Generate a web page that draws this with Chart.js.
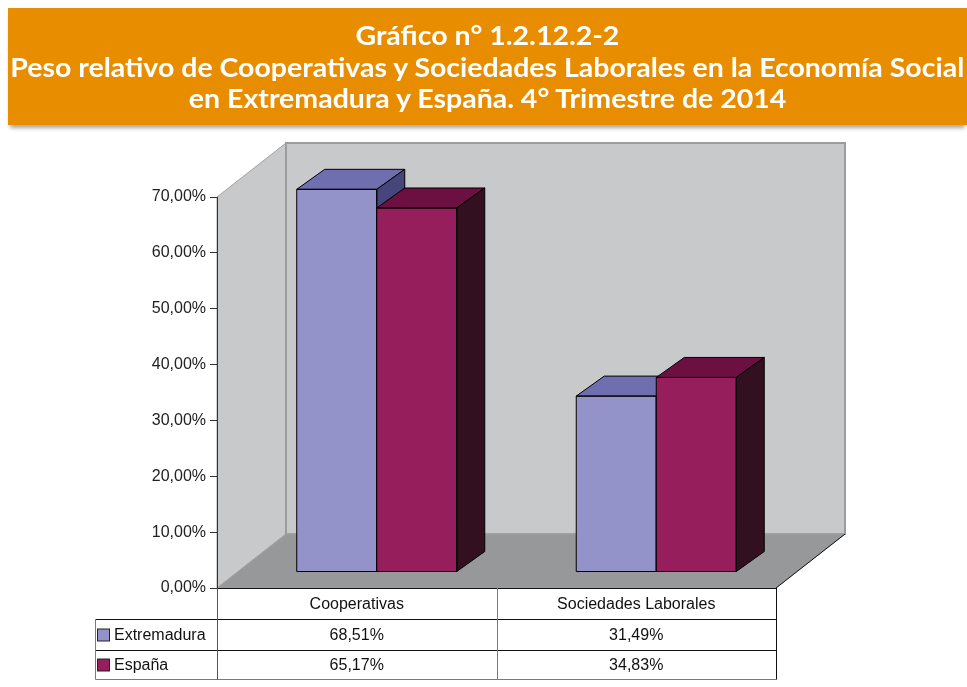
<!DOCTYPE html>
<html>
<head>
<meta charset="utf-8">
<title>Gráfico n° 1.2.12.2-2</title>
<script src="https://cdn.jsdelivr.net/npm/chart.js@4.4.1/dist/chart.umd.min.js"></script>
<style>
  html, body { margin: 0; padding: 0; background: #fff; }
  #wrap { position: relative; width: 967px; height: 687px; overflow: hidden; }
  #chart { position: absolute; left: 0; top: 0; }
  #header {
    position: absolute; left: 8px; top: 8px; width: 959px; height: 117px;
    background: #e88d00; box-shadow: 0 5px 4px -2px rgba(0,0,0,0.35);
    color: #fff; font-family: Lato, "Open Sans", sans-serif; font-weight: 700;
    font-size: 26px; text-align: center;
  }
  #header div { position: absolute; left: 0; right: 0; white-space: nowrap; line-height: 1; }
  #header span { display: inline-block; transform-origin: 50% 50%; }
</style>
</head>
<body>
<div id="wrap">
  <canvas id="chart" width="967" height="687"></canvas>
  <div id="header">
    <div style="top:14px"><span>Gráfico n° 1.2.12.2-2</span></div>
    <div style="top:46px"><span id="longLine">Peso relativo de Cooperativas y Sociedades Laborales en la Economía Social</span></div>
    <div style="top:77px"><span>en Extremadura y España. 4° Trimestre de 2014</span></div>
  </div>
</div>
<script>
const categories = ['Cooperativas', 'Sociedades Laborales'];
const seriesNames = ['Extremadura', 'España'];
const extremadura = [68.51, 31.49];
const espana = [65.17, 34.83];
const yTickValues = [0, 10, 20, 30, 40, 50, 60, 70];

// squeeze the title a little, the original font is narrower
(function fitTitle() {
    const w = document.getElementById('longLine').getBoundingClientRect().width;
    const k = 954 / w;
    document.querySelectorAll('#header span').forEach(s => {
        s.style.transform = 'scaleX(' + k + ')';
    });
})();

function pct(v) {
    return v.toFixed(2).replace('.', ',') + '%';
}

// 3d offsets of the box and of the bars
const WALL_DX = 69, WALL_DY = -54;
const BAR_SHIFT_X = 20, BAR_SHIFT_Y = -16;
const BAR_DX = 28, BAR_DY = -20;

function poly(ctx, pts, fill, stroke, lw) {
    ctx.beginPath();
    ctx.moveTo(pts[0][0], pts[0][1]);
    for (let i = 1; i < pts.length; i++) ctx.lineTo(pts[i][0], pts[i][1]);
    ctx.closePath();
    if (fill) {
        ctx.fillStyle = fill;
        ctx.fill();
    }
    if (stroke) {
        ctx.lineWidth = lw || 1;
        ctx.strokeStyle = stroke;
        ctx.stroke();
    }
}

function line(ctx, x1, y1, x2, y2, color) {
    ctx.beginPath();
    ctx.moveTo(x1, y1);
    ctx.lineTo(x2, y2);
    ctx.lineWidth = 1;
    ctx.strokeStyle = color;
    ctx.stroke();
}

const box3d = {
    id: 'box3d',
    beforeDraw(chart) {
        const ctx = chart.ctx;
        const a = chart.chartArea;
        const dx = WALL_DX, dy = WALL_DY;
        ctx.save();
        // left wall
        poly(ctx, [[a.left, a.top], [a.left + dx, a.top + dy], [a.left + dx, a.bottom + dy], [a.left, a.bottom]], '#c8c9cb', '#a2a2a2');
        // back wall
        poly(ctx, [[a.left + dx, a.top + dy], [a.right + dx, a.top + dy], [a.right + dx, a.bottom + dy], [a.left + dx, a.bottom + dy]], '#c8c9cb', '#9c9c9c', 2);
        // floor
        poly(ctx, [[a.left, a.bottom], [a.left + dx, a.bottom + dy], [a.right + dx, a.bottom + dy], [a.right, a.bottom]], '#979899', '#a2a2a2');
        line(ctx, a.right, a.bottom, a.right + dx, a.bottom + dy, '#111');
        ctx.restore();
    },
    beforeDatasetsDraw(chart) {
        const ctx = chart.ctx;
        ctx.save();
        ctx.translate(BAR_SHIFT_X, BAR_SHIFT_Y);
        ctx.lineJoin = 'miter';
        chart.data.labels.forEach((lab, i) => {
            chart.data.datasets.forEach((ds, d) => {
                const bar = chart.getDatasetMeta(d).data[i];
                bar.draw(ctx);
                const l = bar.x - bar.width / 2;
                const r = bar.x + bar.width / 2;
                const t = bar.y;
                const b = bar.base;
                poly(ctx, [[l, t], [l + BAR_DX, t + BAR_DY], [r + BAR_DX, t + BAR_DY], [r, t]], ds.topColor, '#000');
                poly(ctx, [[r, t], [r + BAR_DX, t + BAR_DY], [r + BAR_DX, b + BAR_DY], [r, b]], ds.sideColor, '#000');
                poly(ctx, [[l, t], [r, t], [r, b], [l, b]], null, '#000');
            });
        });
        ctx.restore();
        return false;
    },
    afterDraw(chart) {
        const ctx = chart.ctx;
        const a = chart.chartArea;
        const xs = chart.scales.x;
        const rowH = 31;
        const top = a.bottom;
        const r1 = top + rowH, r2 = r1 + rowH, r3 = r2 + 29;
        const legendLeft = 95;
        const mid = (a.left + a.right) / 2;
        ctx.save();
        ctx.font = '16px "Liberation Sans", Arial, sans-serif';
        ctx.textAlign = 'center';
        ctx.textBaseline = 'middle';
        ctx.fillStyle = '#111';
        categories.forEach((c, i) => {
            ctx.fillText(c, xs.getPixelForValue(i), top + rowH / 2 + 1);
        });
        const series = [extremadura, espana];
        const rows = [r1, r2];
        const rowEnds = [r2, r3];
        series.forEach((vals, s) => {
            const cy = (rows[s] + rowEnds[s]) / 2 + 1;
            vals.forEach((v, i) => {
                ctx.textAlign = 'center';
                ctx.fillStyle = '#111';
                ctx.fillText(pct(v), xs.getPixelForValue(i), cy);
            });
            const ds = chart.data.datasets[s];
            const sq = 12;
            ctx.fillStyle = ds.backgroundColor;
            ctx.fillRect(97.5, cy - sq / 2 - 0.5, sq, sq);
            ctx.lineWidth = 1;
            ctx.strokeStyle = '#222';
            ctx.strokeRect(97.5, cy - sq / 2 - 0.5, sq, sq);
            ctx.textAlign = 'left';
            ctx.fillStyle = '#111';
            ctx.fillText(seriesNames[s], 114, cy);
        });
        // grid of the table
        const L = Math.round(a.left) + 0.5, R = Math.round(a.right) + 0.5, M = Math.round(mid) + 0.5;
        line(ctx, L, top + 0.5, R, top + 0.5, '#111');
        line(ctx, legendLeft + 0.5, r1 + 0.5, R, r1 + 0.5, '#111');
        line(ctx, legendLeft + 0.5, r2 + 0.5, R, r2 + 0.5, '#111');
        line(ctx, legendLeft + 0.5, r3 + 0.5, R, r3 + 0.5, '#7a7a7a');
        line(ctx, legendLeft + 0.5, r1 + 0.5, legendLeft + 0.5, r3 + 0.5, '#7a7a7a');
        line(ctx, L, top, L, r3 + 0.5, '#555');
        line(ctx, M, top, M, r3 + 0.5, '#7a7a7a');
        line(ctx, R, top, R, r3 + 0.5, '#111');
        ctx.restore();
    }
};

Chart.defaults.font.family = '"Liberation Sans", Arial, sans-serif';

new Chart(document.getElementById('chart'), {
    type: 'bar',
    data: {
        labels: categories,
        datasets: [{
            label: seriesNames[0],
            data: extremadura,
            backgroundColor: '#9393c9',
            topColor: '#6f6faf',
            sideColor: '#46467d',
            borderColor: '#000',
            borderWidth: 0
        }, {
            label: seriesNames[1],
            data: espana,
            backgroundColor: '#961e5c',
            topColor: '#6c1042',
            sideColor: '#321020',
            borderColor: '#000',
            borderWidth: 0
        }]
    },
    options: {
        responsive: false,
        animation: false,
        devicePixelRatio: 1,
        layout: {
            padding: { left: 0, top: 197, right: 191, bottom: 99 }
        },
        datasets: {
            bar: { categoryPercentage: 0.5725, barPercentage: 1 }
        },
        plugins: {
            legend: { display: false },
            title: { display: false },
            tooltip: { enabled: false }
        },
        scales: {
            x: { display: false },
            y: {
                min: 0,
                max: 70,
                afterFit: scale => { scale.width = 217; },
                afterBuildTicks: scale => {
                    scale.ticks = yTickValues.map(v => ({ value: v }));
                },
                border: { display: true, color: '#333', width: 1 },
                grid: { drawOnChartArea: false, drawTicks: true, tickLength: 7, color: '#333' },
                ticks: {
                    padding: 4,
                    color: '#222',
                    font: { size: 16 },
                    callback: v => pct(v)
                }
            }
        }
    },
    plugins: [box3d]
});
</script>
</body>
</html>
